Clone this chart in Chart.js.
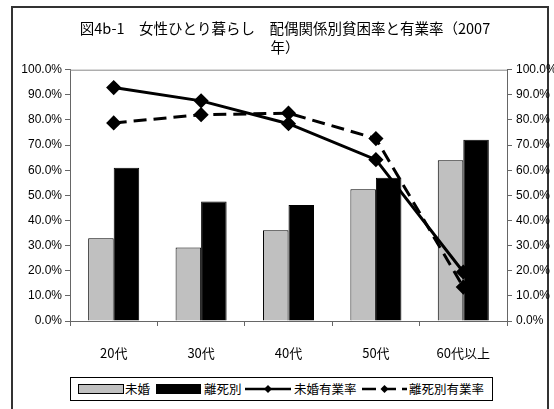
<!DOCTYPE html>
<html>
<head>
<meta charset="utf-8">
<script src="https://cdn.jsdelivr.net/npm/chart.js@4/dist/chart.umd.min.js"></script>
<style>
  html, body { margin: 0; padding: 0; background: #fff; overflow: hidden; }
  #wrap { position: relative; width: 554px; height: 409px; }
  #frame { position: absolute; left: 11px; top: 6px; width: 534px; height: 430px; border: 2px solid #333; border-bottom: none; }
  #chart { position: absolute; left: 0; top: 0; }
  #legend { position: absolute; left: 70px; top: 377px; width: 421px; height: 22px; border: 1px solid #000; background: #fff;
            font-family: "Noto Sans CJK JP", sans-serif; font-size: 12.5px; color: #000; }
  #legend .it { position: absolute; top: 0; height: 22px; line-height: 22px; white-space: nowrap; }
  #legend svg { position: absolute; top: 0; }
</style>
</head>
<body>
<div id="wrap">
  <div id="frame"></div>
  <canvas id="chart" width="554" height="409"></canvas>
  <div id="legend"></div>
</div>
<script>
// 軸ラベル
const categories = ['20代', '30代', '40代', '50代', '60代以上'];

// 貧困率（棒）
const mikonPoverty = [32.9, 29.2, 36.1, 52.4, 64.0];
const rishibetsuPoverty = [61.0, 47.6, 46.2, 57.0, 72.1];

// 有業率（折れ線）
const mikonEmployment = [92.9, 87.6, 78.5, 64.2, 19.5];
const rishibetsuEmployment = [78.8, 82.1, 82.7, 72.6, 13.5];

const seriesNames = ['未婚', '離死別', '未婚有業率', '離死別有業率'];

const tickFont = { family: 'Liberation Sans', size: 12 };
const cjkFont = { family: 'Noto Sans CJK JP', size: 13 };

// プロット上端の線
const topLinePlugin = {
    id: 'topLine',
    afterDraw(chart) {
        const a = chart.chartArea;
        const c = chart.ctx;
        c.save();
        c.strokeStyle = '#888';
        c.lineWidth = 1;
        c.beginPath();
        c.moveTo(a.left, a.top + 0.5);
        c.lineTo(a.right, a.top + 0.5);
        c.stroke();
        c.restore();
    }
};

const ctx = document.getElementById('chart').getContext('2d');
const chart = new Chart(ctx, {
    data: {
        labels: categories,
        datasets: [
            {
                type: 'line', label: seriesNames[2], data: mikonEmployment, order: 1,
                borderColor: '#000', backgroundColor: '#000', borderWidth: 3,
                pointStyle: 'rectRot', pointRadius: 5.5, pointHoverRadius: 5.5, yAxisID: 'y'
            },
            {
                type: 'line', label: seriesNames[3], data: rishibetsuEmployment, order: 1,
                borderColor: '#000', backgroundColor: '#000', borderWidth: 3, borderDash: [13, 7],
                pointStyle: 'rectRot', pointRadius: 5.5, pointHoverRadius: 5.5, yAxisID: 'y'
            },
            {
                type: 'bar', label: seriesNames[0], data: mikonPoverty, order: 2,
                backgroundColor: '#c0c0c0', borderColor: '#000', borderWidth: 1,
                categoryPercentage: 0.584, barPercentage: 1, yAxisID: 'y'
            },
            {
                type: 'bar', label: seriesNames[1], data: rishibetsuPoverty, order: 2,
                backgroundColor: '#000', borderColor: '#000', borderWidth: 1,
                categoryPercentage: 0.584, barPercentage: 1, yAxisID: 'y'
            }
        ]
    },
    options: {
        responsive: false,
        animation: false,
        devicePixelRatio: 1,
        layout: { padding: { left: 16, right: 0, top: 0, bottom: 0 } },
        plugins: {
            legend: { display: false },
            tooltip: { enabled: false },
            title: {
                display: true,
                text: ['図4b-1　女性ひとり暮らし　配偶関係別貧困率と有業率（2007', '年）'],
                color: '#000',
                font: { family: 'Noto Sans CJK JP', size: 14.5, weight: 'normal', lineHeight: 1.3 },
                padding: { top: 19, bottom: 13 }
            }
        },
        scales: {
            x: {
                grid: { display: true, drawOnChartArea: false, offset: true, tickLength: 5, color: '#666' },
                border: { color: '#666', width: 1 },
                ticks: { color: '#000', font: cjkFont, padding: 19, maxRotation: 0 },
                afterFit(scale) { scale.height = 88; }
            },
            y: {
                position: 'left', min: 0, max: 100,
                grid: { drawOnChartArea: false, tickLength: 5, color: '#666' },
                border: { color: '#666', width: 1 },
                ticks: { stepSize: 10, color: '#000', font: tickFont, padding: 3,
                         callback: v => v.toFixed(1) + '%' },
                afterFit(scale) { scale.width = 54; }
            },
            y2: {
                position: 'right', min: 0, max: 100,
                grid: { drawOnChartArea: false, tickLength: 5, color: '#666' },
                border: { color: '#666', width: 1 },
                ticks: { stepSize: 10, color: '#000', font: tickFont, padding: 4,
                         callback: v => v.toFixed(1) + '%' },
                afterFit(scale) { scale.width = 47; }
            }
        }
    },
    plugins: [topLinePlugin]
});

// 凡例（HTML）
const legendItems = [
    { kind: 'bar', fill: '#c0c0c0', x: 7, w: 46, label: seriesNames[0], tx: 54 },
    { kind: 'bar', fill: '#000', x: 85, w: 45, label: seriesNames[1], tx: 133 },
    { kind: 'line', dash: '', x: 174, w: 46, label: seriesNames[2], tx: 223 },
    { kind: 'line', dash: '14 6', x: 291, w: 45, label: seriesNames[3], tx: 338 }
];
const legend = document.getElementById('legend');
legendItems.forEach(item => {
    const svgNS = 'http://www.w3.org/2000/svg';
    const svg = document.createElementNS(svgNS, 'svg');
    svg.setAttribute('width', item.w);
    svg.setAttribute('height', 22);
    svg.style.left = item.x + 'px';
    if (item.kind === 'bar') {
        const r = document.createElementNS(svgNS, 'rect');
        r.setAttribute('x', 0.5); r.setAttribute('y', 6.5);
        r.setAttribute('width', item.w - 1); r.setAttribute('height', 9);
        r.setAttribute('fill', item.fill); r.setAttribute('stroke', '#000');
        svg.appendChild(r);
    } else {
        const l = document.createElementNS(svgNS, 'line');
        l.setAttribute('x1', 0); l.setAttribute('x2', item.w);
        l.setAttribute('y1', 11); l.setAttribute('y2', 11);
        l.setAttribute('stroke', '#000'); l.setAttribute('stroke-width', 2.5);
        if (item.dash) l.setAttribute('stroke-dasharray', item.dash);
        svg.appendChild(l);
        const d = document.createElementNS(svgNS, 'polygon');
        const cx = item.w / 2;
        d.setAttribute('points', `${cx},7 ${cx + 4},11 ${cx},15 ${cx - 4},11`);
        d.setAttribute('fill', '#000');
        svg.appendChild(d);
    }
    legend.appendChild(svg);
    const t = document.createElement('span');
    t.className = 'it';
    t.style.left = item.tx + 'px';
    t.textContent = item.label;
    legend.appendChild(t);
});
</script>
</body>
</html>
